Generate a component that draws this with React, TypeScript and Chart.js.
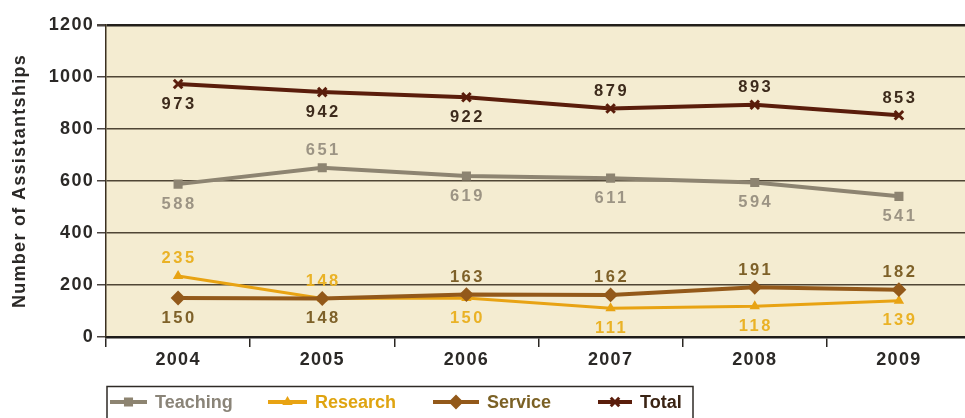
import React, { useEffect, useRef } from "react";
import { Chart, registerables } from "chart.js";
import { drawPoint } from "chart.js/helpers";

Chart.register(...registerables);

const years = ["2004", "2005", "2006", "2007", "2008", "2009"];
const teaching = [588, 651, 619, 611, 594, 541];
const research = [235, 148, 150, 111, 118, 139];
const service = [150, 148, 163, 162, 191, 182];
const total = [973, 942, 922, 879, 893, 853];
const yTicks = [0, 200, 400, 600, 800, 1000, 1200];

const FONT = "'Liberation Sans', Arial, Helvetica, sans-serif";

// label placement per series ("a" above, "b" below)
const placeTeaching = ["b", "a", "b", "b", "b", "b"];
const placeResearch = ["a", "a", "b", "b", "b", "b"];
const placeService = ["b", "b", "a", "a", "a", "a"];
const placeTotal = ["b", "b", "b", "a", "a", "a"];

const series = [
  { label: "Total", data: total, line: "#5a1d0b", text: "#3d2b1c", legend: "#3a2414", style: "crossRot", r: 6, bw: 3, place: placeTotal, order: 0 },
  { label: "Service", data: service, line: "#93591a", text: "#7e6129", legend: "#7b6125", style: "rectRot", r: 6, bw: 2, place: placeService, order: 1 },
  { label: "Research", data: research, line: "#e8a313", text: "#eab226", legend: "#dfa410", style: "triangle", r: 4, bw: 2, place: placeResearch, order: 2 },
  { label: "Teaching", data: teaching, line: "#8d8471", text: "#9c9484", legend: "#8a8478", style: "rect", r: 5, bw: 2, place: placeTeaching, order: 3 },
];

const legendOrder = ["Teaching", "Research", "Service", "Total"];
const legendSwatchX = [110, 268, 433, 598];
const legendTextX = [155, 315, 487, 640];

const spacingPlugin = {
  id: "spacing",
  beforeLayout(chart: any) {
    (chart.ctx as any).letterSpacing = "1.3px";
  },
  beforeDraw(chart: any) {
    (chart.ctx as any).letterSpacing = "1.3px";
  },
};

const bgPlugin = {
  id: "plotBg",
  beforeDraw(chart: any) {
    const { ctx, chartArea: a } = chart;
    ctx.save();
    ctx.fillStyle = "#f4ecd1";
    ctx.fillRect(a.left, a.top, a.right - a.left, a.bottom - a.top);
    ctx.restore();
  },
};

const labelPlugin = {
  id: "valueLabels",
  afterDatasetsDraw(chart: any) {
    const ctx = chart.ctx;
    ctx.save();
    (ctx as any).letterSpacing = "2.5px";
    ctx.font = `bold 16.5px ${FONT}`;
    ctx.textAlign = "center";
    ctx.textBaseline = "middle";
    chart.data.datasets.forEach((ds: any, i: number) => {
      const s = series[i];
      const meta = chart.getDatasetMeta(i);
      meta.data.forEach((pt: any, j: number) => {
        const dy = s.place[j] === "a" ? -17 : 20;
        ctx.fillStyle = s.text;
        ctx.fillText(String(ds.data[j]), pt.x + 1, pt.y + dy);
      });
    });
    ctx.restore();
  },
};

const legendPlugin = {
  id: "boxLegend",
  afterDraw(chart: any) {
    const ctx = chart.ctx;
    ctx.save();
    (ctx as any).letterSpacing = "0px";
    ctx.strokeStyle = "#2e2a26";
    ctx.lineWidth = 1.5;
    ctx.strokeRect(107, 386.5, 586, 50);
    const y = 402;
    legendOrder.forEach((name, k) => {
      const s = series.find((q) => q.label === name)!;
      const x0 = legendSwatchX[k];
      const x1 = legendTextX[k] - 8;
      ctx.strokeStyle = s.line;
      ctx.lineWidth = 4;
      ctx.beginPath();
      ctx.moveTo(x0, y);
      ctx.lineTo(x1, y);
      ctx.stroke();
      ctx.fillStyle = s.line;
      ctx.strokeStyle = s.line;
      ctx.lineWidth = s.bw;
      drawPoint(ctx, { pointStyle: s.style as any, radius: s.r, borderWidth: s.bw, rotation: 0 } as any, (x0 + x1) / 2, y);
      ctx.fillStyle = s.legend;
      ctx.font = `bold 18px ${FONT}`;
      ctx.textAlign = "left";
      ctx.textBaseline = "middle";
      ctx.fillText(name, legendTextX[k], y + 1);
    });
    ctx.restore();
  },
};

export default function App() {
  const ref = useRef<HTMLCanvasElement>(null);
  useEffect(() => {
    if (!ref.current) return;
    const chart = new Chart(ref.current, {
      type: "line",
      data: {
        labels: years,
        datasets: series.map((s) => ({
          label: s.label,
          data: s.data,
          borderColor: s.line,
          backgroundColor: s.line,
          borderWidth: s.label === "Research" ? 3 : 4,
          pointStyle: s.style as any,
          pointRadius: s.r,
          pointBorderWidth: s.bw,
          pointBorderColor: s.line,
          pointBackgroundColor: s.line,
          tension: 0,
          order: s.order,
        })),
      },
      options: {
        responsive: false,
        animation: false,
        devicePixelRatio: 1,
        layout: { padding: { top: 25, right: 9, left: 0, bottom: 0 } },
        plugins: { legend: { display: false }, tooltip: { enabled: false }, title: { display: false } },
        scales: {
          x: {
            type: "category",
            offset: true,
            afterFit: (s: any) => {
              s.height = 81;
            },
            grid: {
              offset: true,
              drawOnChartArea: false,
              drawTicks: true,
              tickLength: 10,
              color: "#2a2622",
              lineWidth: 1.5,
            },
            border: { display: true, color: "#1e1c1a", width: 2.5 },
            ticks: {
              color: "#2b2927",
              font: { family: FONT, size: 18, weight: "bold" },
              padding: 2,
              maxRotation: 0,
            },
          },
          y: {
            min: 0,
            max: 1200,
            afterFit: (s: any) => {
              s.width = 106;
            },
            afterBuildTicks: (s: any) => {
              s.ticks = yTicks.map((v) => ({ value: v }));
            },
            grid: {
              color: (c: any) => (c.tick && c.tick.value === 1200 ? "#231f1b" : "#4f4535"),
              lineWidth: (c: any) => (c.tick && c.tick.value === 1200 ? 2.5 : 1.5),
              tickLength: 9,
              tickColor: "#4a4440",
            },
            border: { display: true, color: "#3a3020", width: 1.5 },
            ticks: {
              color: "#2b2927",
              font: { family: FONT, size: 18, weight: "bold" },
              padding: 3,
              callback: (v: any) => String(v),
            },
            title: {
              display: true,
              text: "Number of Assistantships",
              color: "#2b2927",
              font: { family: FONT, size: 18, weight: "bold" },
              padding: { top: 9, bottom: 0 },
            },
          },
        },
      },
      plugins: [spacingPlugin, bgPlugin, labelPlugin, legendPlugin],
    } as any);
    return () => chart.destroy();
  }, []);
  return (
    <div style={{ position: "absolute", left: 0, top: 0, width: 965, height: 418, overflow: "hidden", background: "#fff" }}>
      <canvas ref={ref} width={980} height={418} style={{ display: "block", width: 980, height: 418 }} />
    </div>
  );
}
